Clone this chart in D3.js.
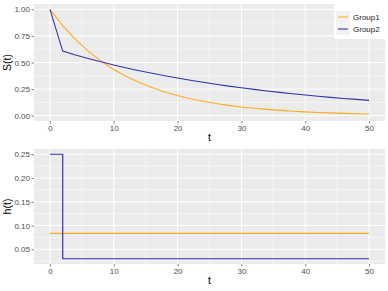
<!DOCTYPE html>
<html>
<head>
<meta charset="utf-8">
<script src="https://cdn.jsdelivr.net/npm/d3@7"></script>
<style>
  body { margin: 0; background: #fff; }
  text { font-family: "Liberation Sans", Arial, sans-serif; }
</style>
</head>
<body>
<svg id="chart" width="388" height="291"></svg>
<script>
// survival curves
const timePoints = [0, 2, 4, 6, 8, 10, 12, 14, 16, 18, 20, 22, 24, 26, 28, 30, 32, 34, 36, 38, 40, 42, 44, 46, 48, 50];
const survGroup1 = [1, 0.847, 0.717, 0.607, 0.513, 0.435, 0.368, 0.311, 0.264, 0.223, 0.189, 0.160, 0.135, 0.115, 0.097, 0.082, 0.070, 0.059, 0.050, 0.042, 0.036, 0.030, 0.026, 0.022, 0.018, 0.016];
const survGroup2 = [1, 0.607, 0.571, 0.538, 0.507, 0.477, 0.449, 0.423, 0.399, 0.375, 0.354, 0.333, 0.314, 0.295, 0.278, 0.262, 0.247, 0.232, 0.219, 0.206, 0.194, 0.183, 0.172, 0.162, 0.153, 0.144];

// hazard steps
const hazTime1 = [0, 50];
const hazGroup1 = [0.0833, 0.0833];
const hazTime2 = [0, 2, 50];
const hazGroup2 = [0.25, 0.03, 0.03];

const groups = ["Group1", "Group2"];
const colors = ["#FFAA22", "#3434AA"];

const xTicks = [0, 10, 20, 30, 40, 50];
const xMinor = [5, 15, 25, 35, 45];
const sTicks = [0, 0.25, 0.5, 0.75, 1];
const sMinor = [0.125, 0.375, 0.625, 0.875];
const hTicks = [0.05, 0.10, 0.15, 0.20, 0.25];
const hMinor = [0.025, 0.075, 0.125, 0.175, 0.225];

const svg = d3.select('#chart');
const left = 34, right = 385;

function panel(top, bottom, yDomain, yTicks, yMinor, yFmt, yTitle) {
    let g = svg.append('g');
    let x = d3.scaleLinear().domain([-2.5, 52.5]).range([left, right]);
    let y = d3.scaleLinear().domain(yDomain).range([bottom, top]);
    g.append('rect')
        .attr('x', left).attr('y', top)
        .attr('width', right - left).attr('height', bottom - top)
        .attr('fill', '#ebebeb');
    // grid
    g.selectAll('.minx').data(xMinor).enter().append('line')
        .attr('x1', d => x(d)).attr('x2', d => x(d))
        .attr('y1', top).attr('y2', bottom)
        .attr('stroke', '#fff').attr('stroke-width', 0.5);
    g.selectAll('.miny').data(yMinor).enter().append('line')
        .attr('x1', left).attr('x2', right)
        .attr('y1', d => y(d)).attr('y2', d => y(d))
        .attr('stroke', '#fff').attr('stroke-width', 0.5);
    g.selectAll('.majx').data(xTicks).enter().append('line')
        .attr('x1', d => x(d)).attr('x2', d => x(d))
        .attr('y1', top).attr('y2', bottom)
        .attr('stroke', '#fff').attr('stroke-width', 1);
    g.selectAll('.majy').data(yTicks).enter().append('line')
        .attr('x1', left).attr('x2', right)
        .attr('y1', d => y(d)).attr('y2', d => y(d))
        .attr('stroke', '#fff').attr('stroke-width', 1);

    // axes
    let xAxis = g.append('g')
        .attr('transform', 'translate(0,' + bottom + ')')
        .call(d3.axisBottom(x).tickValues(xTicks).tickSize(2.5).tickPadding(1.5));
    let yAxis = g.append('g')
        .attr('transform', 'translate(' + left + ',0)')
        .call(d3.axisLeft(y).tickValues(yTicks).tickFormat(yFmt).tickSize(2.5).tickPadding(1.5));
    [xAxis, yAxis].forEach(a => {
        a.select('.domain').remove();
        a.selectAll('line').attr('stroke', '#333').attr('stroke-width', 0.6);
        a.selectAll('text').attr('fill', '#4d4d4d').style('font-size', '8px')
            .style('font-family', '"Liberation Sans", Arial, sans-serif');
    });

    g.append('text')
        .attr('x', (left + right) / 2).attr('y', bottom + 20)
        .attr('text-anchor', 'middle')
        .style('font-size', '10.5px')
        .text('t');
    g.append('text')
        .attr('transform', 'translate(' + 11 + ',' + ((top + bottom) / 2) + ') rotate(-90)')
        .attr('text-anchor', 'middle')
        .style('font-size', '10.5px')
        .text(yTitle);
    return { g: g, x: x, y: y };
}

// top: survival
let p1 = panel(4, 121, [-0.05, 1.05], sTicks, sMinor, d3.format('.2f'), 'S(t)');
let survLine = d3.line().x(d => p1.x(d[0])).y(d => p1.y(d[1]));
[survGroup1, survGroup2].forEach((s, i) => {
    p1.g.append('path')
        .datum(timePoints.map((t, k) => [t, s[k]]))
        .attr('d', survLine)
        .attr('fill', 'none')
        .attr('stroke', colors[i])
        .attr('stroke-width', 1.1);
});

// bottom: hazard
let p2 = panel(149, 264, [0.019, 0.261], hTicks, hMinor, d3.format('.2f'), 'h(t)');
let hazLine = d3.line().curve(d3.curveStepAfter).x(d => p2.x(d[0])).y(d => p2.y(d[1]));
[[hazTime1, hazGroup1], [hazTime2, hazGroup2]].forEach((h, i) => {
    p2.g.append('path')
        .datum(h[0].map((t, k) => [t, h[1][k]]))
        .attr('d', hazLine)
        .attr('fill', 'none')
        .attr('stroke', colors[i])
        .attr('stroke-width', 1.2);
});

// legend
let legend = svg.append('g').attr('transform', 'translate(334,3)');
legend.append('rect')
    .attr('width', 54).attr('height', 36)
    .attr('fill', '#fff');
let item = legend.selectAll('.item').data(groups).enter().append('g')
    .attr('transform', (d, i) => 'translate(2,' + (8 + i * 12) + ')');
item.append('rect')
    .attr('width', 14).attr('height', 12)
    .attr('fill', '#f2f2f2');
item.append('line')
    .attr('x1', 2).attr('x2', 12)
    .attr('y1', 6).attr('y2', 6)
    .attr('stroke', (d, i) => colors[i])
    .attr('stroke-width', 1.1);
item.append('text')
    .attr('x', 17).attr('y', 6)
    .attr('dy', '0.35em')
    .style('font-size', '8px')
    .attr('fill', '#1a1a1a')
    .text(d => d);
</script>
</body>
</html>
